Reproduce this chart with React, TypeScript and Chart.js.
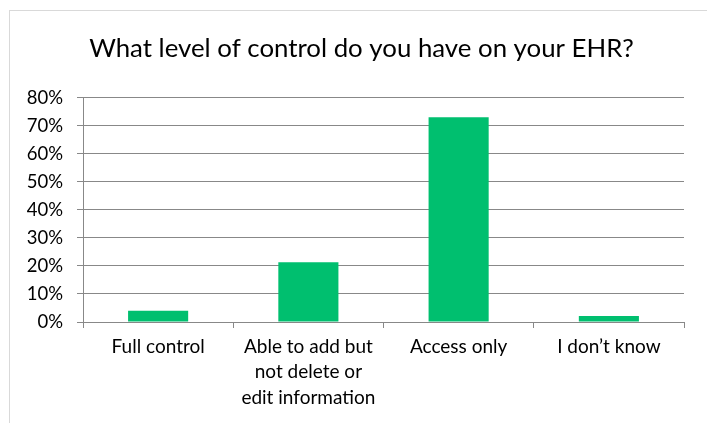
import React, { useEffect, useRef } from "react";
import { Chart, registerables } from "chart.js";

Chart.register(...registerables);

const titleText = "What level of control do you have on your EHR?";
const categories: string[][] = [
  ["Full control"],
  ["Able to add but", "not delete or", "edit information"],
  ["Access only"],
  ["I don’t know"],
];
const values: number[] = [4.0, 21.3, 73.1, 2.1];
const yMax = 80;
const yStep = 10;

const FONT = "Lato";
const GRID = "#888888";
const BAR = "#00BF6F";

// Let y tick labels extend into the layout padding (no clipping at the scale box).
const unclipYLabels = {
  id: "unclipYLabels",
  afterLayout(chart: any) {
    const y = chart.scales.y;
    if (y) y.left = 0;
  },
};

export default function App() {
  const ref = useRef<HTMLCanvasElement | null>(null);

  useEffect(() => {
    if (!ref.current) return;
    const chart = new Chart(ref.current, {
      type: "bar",
      data: {
        labels: categories,
        datasets: [
          {
            data: values,
            backgroundColor: BAR,
            borderWidth: 0,
            barPercentage: 0.4,
            categoryPercentage: 1,
          },
        ],
      },
      options: {
        animation: false,
        responsive: false,
        maintainAspectRatio: false,
        layout: { padding: { left: 39, right: 23, top: 0, bottom: 0 } },
        plugins: {
          legend: { display: false },
          tooltip: { enabled: false },
          title: {
            display: true,
            text: titleText,
            color: "#000000",
            font: { family: FONT, size: 25.8, weight: "normal", lineHeight: 1.2 },
            padding: { top: 33, bottom: 34 },
          },
        },
        scales: {
          x: {
            grid: {
              display: true,
              drawOnChartArea: false,
              drawTicks: true,
              tickLength: 6,
              color: GRID,
              offset: true,
            },
            border: { display: true, color: GRID, width: 1 },
            ticks: {
              color: "#000000",
              font: { family: FONT, size: 19, lineHeight: 1.34 },
              padding: 6,
              maxRotation: 0,
              autoSkip: false,
            },
            afterFit: (scale: any) => {
              scale.height = 101;
            },
          },
          y: {
            min: 0,
            max: yMax,
            grid: {
              color: GRID,
              drawTicks: true,
              tickLength: 6,
            },
            border: { display: true, color: GRID, width: 1 },
            ticks: {
              stepSize: yStep,
              color: "#000000",
              font: { family: FONT, size: 18.5 },
              padding: 14,
              callback: (v: any) => `${v}%`,
            },
            afterFit: (scale: any) => {
              scale.width = 44;
            },
          },
        },
      },
      plugins: [unclipYLabels],
    });
    return () => chart.destroy();
  }, []);

  return (
    <>
      <div
        style={{
          position: "fixed",
          left: 9,
          top: 10,
          width: 800,
          height: 500,
          borderLeft: "1px solid #D9D9D9",
          borderTop: "1px solid #D9D9D9",
          boxSizing: "border-box",
        }}
      />
      <canvas
        ref={ref}
        width={707}
        height={423}
        style={{ position: "fixed", left: 0, top: 0, width: 707, height: 423 }}
      />
    </>
  );
}
